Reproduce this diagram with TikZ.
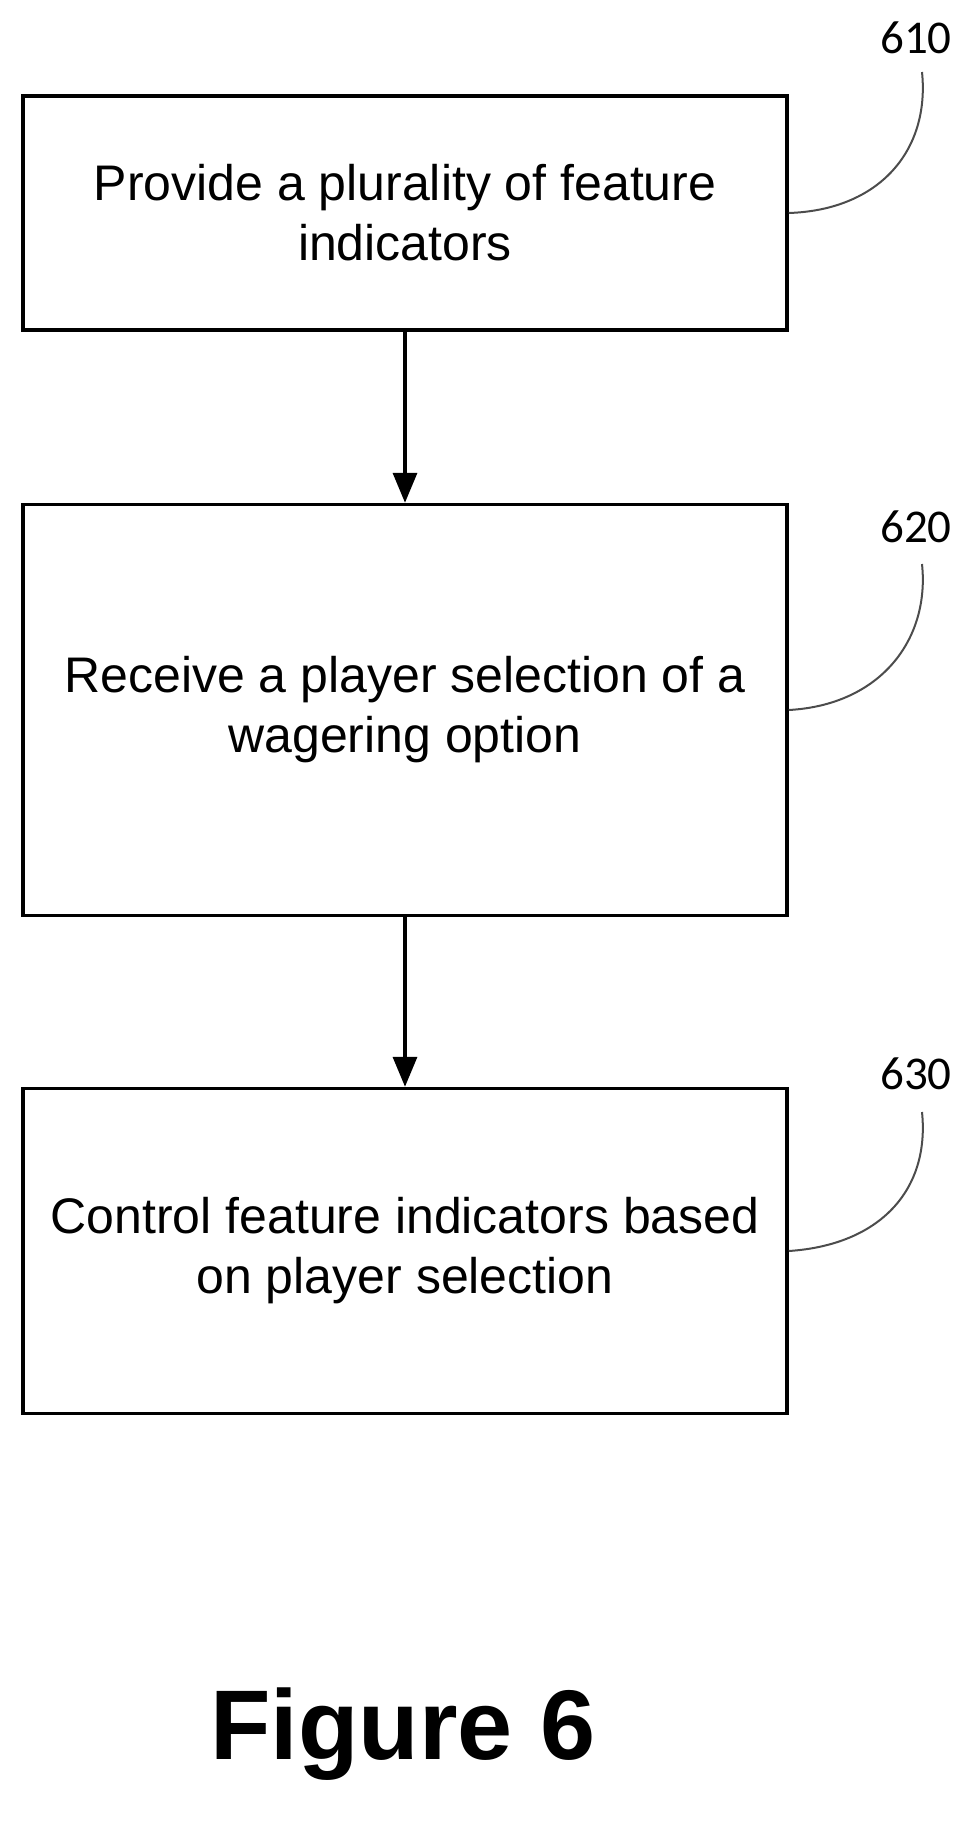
\documentclass[tikz,border=0pt]{standalone}
\usepackage{fontspec}
\setmainfont{Liberation Sans}
\newfontfamily\reffont{Carlito}
\usetikzlibrary{arrows.meta}

\begin{document}
\begin{tikzpicture}[x=1pt,y=-1pt,
  stepbox/.style={draw, line width=3.5pt, minimum width=764pt, align=center, font=\fontsize{50}{60}\selectfont},
  flow/.style={-{Triangle[length=30pt,width=24pt]}, line width=3.5pt},
  lead/.style={line width=2pt, gray!60!black},
  refnum/.style={font=\reffont\fontsize{47}{54}\selectfont}]
\useasboundingbox (0,0) rectangle (979,1821);

% Steps
\node[stepbox, minimum height=234pt] (s610) at (405,213) {Provide a plurality of feature\\indicators};
\node[stepbox, minimum height=411pt] (s620) at (405,710) {Receive a player selection of a\\wagering option};
\node[stepbox, minimum height=325pt] (s630) at (405,1251) {Control feature indicators based\\on player selection};

% Flow
\draw[flow] (s610) -- (s620);
\draw[flow] (s620) -- (s630);

% Reference numerals
\node[refnum] (n610) at (916,38) {610};
\node[refnum] (n620) at (916,527) {620};
\node[refnum] (n630) at (916,1074) {630};
\coordinate (e610) at (922,72);
\coordinate (e620) at (922,564);
\coordinate (e630) at (922,1112);
\draw[lead] (s610.east) .. controls (880,210) and (930,150) .. (e610);
\draw[lead] (s620.east) .. controls (880,705) and (930,640) .. (e620);
\draw[lead] (s630.east) .. controls (880,1245) and (930,1190) .. (e630);

% Caption
\node[font=\bfseries\fontsize{99}{112}\selectfont] (cap) at (403,1734) {Figure 6};
\end{tikzpicture}
\end{document}
